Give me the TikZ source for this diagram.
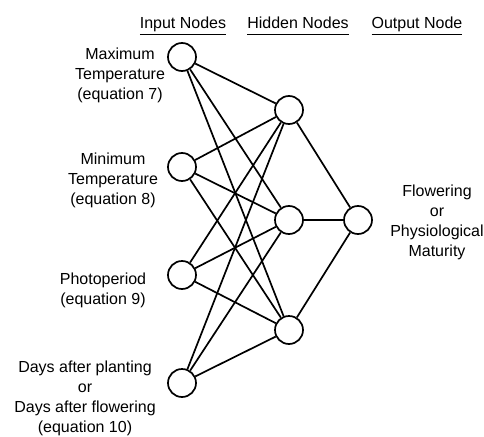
\documentclass[tikz,border=0pt]{standalone}
\usepackage{fontspec}
\setmainfont{Liberation Sans}
\usetikzlibrary{positioning}
\tikzset{
  nd/.style={circle,draw,line width=1.7pt,minimum size=28pt,inner sep=0pt},
  ln/.style={line width=1.7pt},
  lbl/.style={align=center,font=\fontsize{16}{20}\selectfont},
  hd/.style={anchor=base,font=\fontsize{16}{20}\selectfont}
}
\begin{document}
\begin{tikzpicture}[x=1pt,y=-1pt]
\useasboundingbox (0,0) rectangle (484,436);
% column headers
\node[hd] (hin) at (183,29) {\underline{Input Nodes\vphantom{p}}};
\node[hd] (hhid) at (298,29) {\underline{Hidden Nodes\vphantom{p}}};
\node[hd] (hout) at (417,29) {\underline{Output Node\vphantom{p}}};
% nodes
\foreach \n/\y in {1/57,2/167,3/275,4/383} \node[nd] (in\n) at (182,\y) {};
\foreach \n/\y in {1/110,2/220,3/330} \node[nd] (hid\n) at (289,\y) {};
\node[nd] (out) at (358,220) {};
% connections
\foreach \i in {1,...,4} \foreach \j in {1,...,3} \draw[ln] (in\i) -- (hid\j);
\foreach \j in {1,...,3} \draw[ln] (hid\j) -- (out);
% labels
\node[lbl] (lmax) at (120,75) {Maximum\\Temperature\\(equation 7)};
\node[lbl] (lmin) at (113,180) {Minimum\\Temperature\\(equation 8)};
\node[lbl] (lphot) at (103,290) {Photoperiod\\(equation 9)};
\node[lbl] (ldays) at (85,398) {Days after planting\\or\\Days after flowering\\(equation 10)};
\node[lbl] (lout) at (437,222) {Flowering\\or\\Physiological\\Maturity};
\end{tikzpicture}
\end{document}
